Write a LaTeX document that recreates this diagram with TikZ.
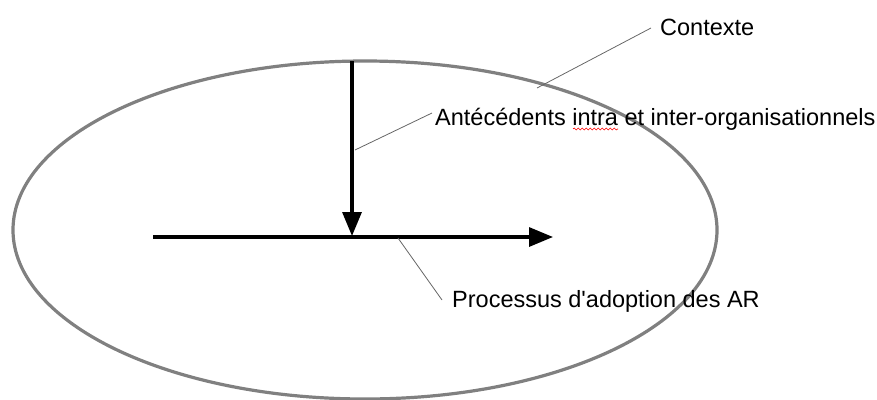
\documentclass[tikz,border=0pt]{standalone}
\usepackage{fontspec}
\setmainfont{Liberation Sans}
\usetikzlibrary{arrows.meta,decorations.pathmorphing}
\tikzset{
  fleche/.style={line width=3.2pt,-{Triangle[length=24pt,width=19pt]}},
  renvoi/.style={draw=black!60,line width=0.8pt},
  legende/.style={anchor=base west,inner sep=0pt,font=\fontsize{23.5}{28}\selectfont}
}
\begin{document}
\begin{tikzpicture}[x=1pt,y=-1pt]
        \useasboundingbox (0,0) rectangle (877,399);
        % le contexte
        \draw[draw=black!50,line width=3.2pt] (365,230) ellipse [x radius=352pt,y radius=169pt];
        % les deux fleches
        \coordinate (haut) at (352,61);
        \coordinate (croisement) at (352,236);
        \coordinate (debut) at (153,237);
        \coordinate (fin) at (553,237);
        \draw[fleche] (haut) -- (croisement);
        \draw[fleche] (debut) -- (fin);
        % les legendes
        \node[legende] (contexte) at (660,35) {Contexte};
        \node[legende] (antecedents) at (435,125) {Antécédents intra et inter-organisationnels};
        \node[legende] (processus) at (452,307) {Processus d\textquotesingle adoption des AR};
        \coordinate (bordure) at (537,88);
        \coordinate (surverticale) at (355,150);
        \coordinate (surhorizontale) at (398,238);
        \draw[renvoi] ([xshift=-9pt,yshift=7pt]contexte.base west) -- (bordure);
        \draw[renvoi] ([xshift=-3pt,yshift=12pt]antecedents.base west) -- (surverticale);
        \draw[renvoi] ([xshift=-10pt,yshift=7pt]processus.base west) -- (surhorizontale);
        \draw[red,line width=0.6pt,decorate,decoration={snake,amplitude=1pt,segment length=4pt}] (573,129) -- (618,129);
\end{tikzpicture}
\end{document}
